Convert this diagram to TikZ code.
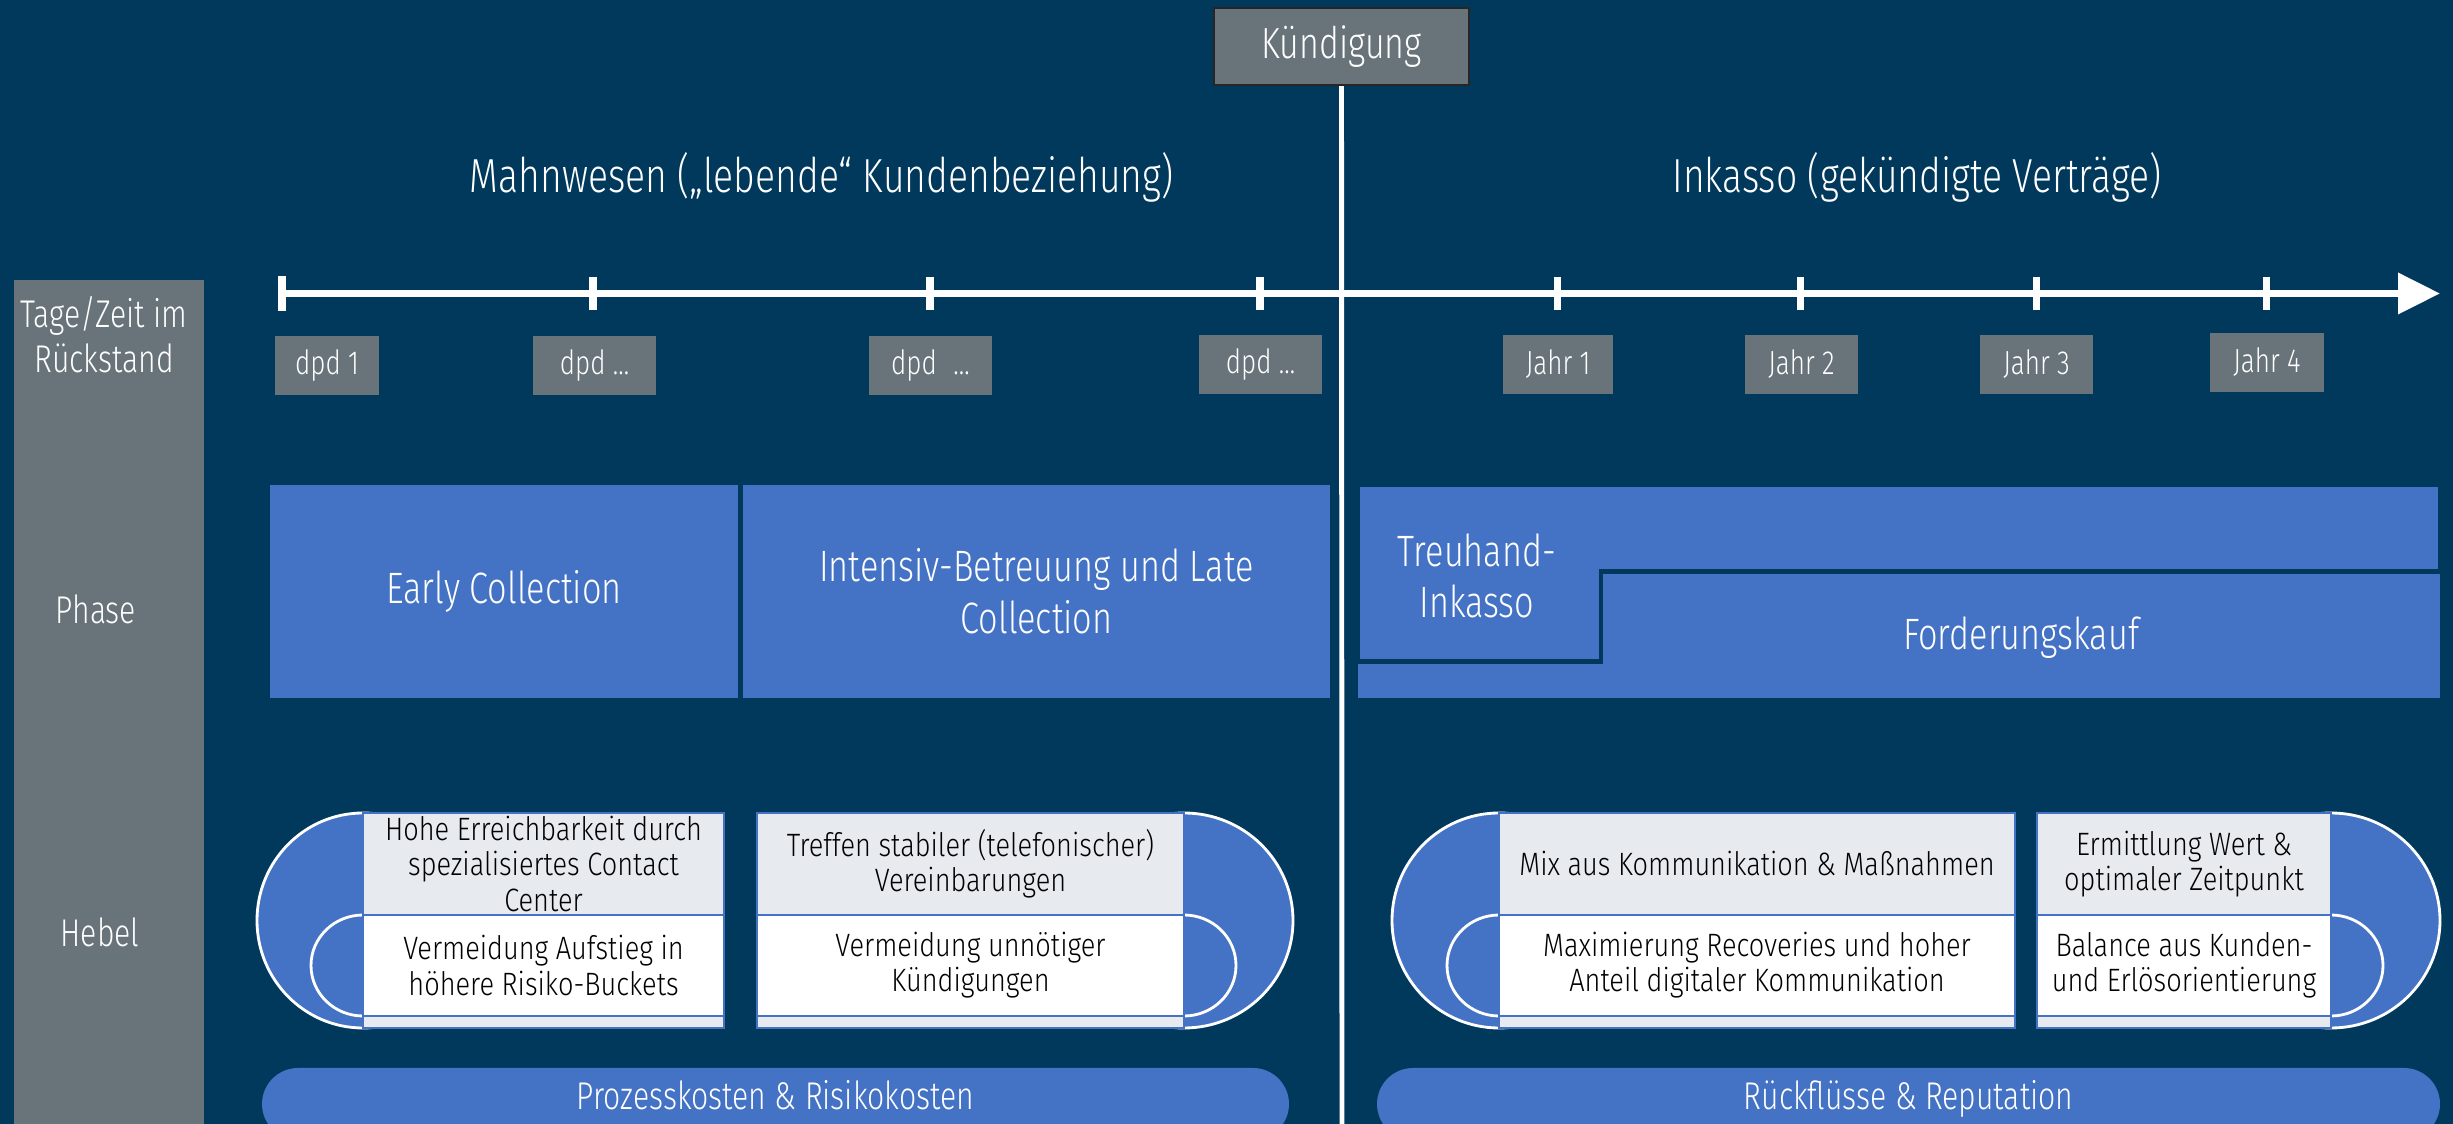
\documentclass[tikz,border=0pt]{standalone}
\usepackage{fontspec}
\setmainfont{Fira Sans Light}[FakeStretch=0.78]
\usepackage{tikz}
\usetikzlibrary{arrows.meta}
\definecolor{navyBg}{RGB}{0,57,92}
\definecolor{slateGray}{RGB}{104,115,122}
\definecolor{phaseBlue}{RGB}{68,114,196}
\definecolor{paleGray}{RGB}{231,235,239}

\begin{document}
\begin{tikzpicture}[x=1cm,y=-1cm,
  tag/.style={fill=slateGray,text=white,minimum height=0.59cm,inner sep=0pt,font=\fontsize{9.5}{11}\selectfont},
  title/.style={text=white,font=\fontsize{13.6}{16}\selectfont},
  rowlabel/.style={text=white,align=center,font=\fontsize{11}{12.8}\selectfont},
  phasebox/.style={fill=phaseBlue,text=white,inner sep=0pt,align=center,font=\fontsize{12.5}{14.7}\selectfont},
  lobe/.style={fill=phaseBlue,draw=white,line width=0.8pt},
  lever/.style={draw=phaseBlue,line width=0.7pt,fill=paleGray,text=black,inner sep=0pt,align=center,font=\fontsize{9.2}{10}\selectfont\addfontfeature{FakeStretch=0.84}},
  leverwhite/.style={lever,fill=white},
  pill/.style={fill=phaseBlue,text=white,rounded corners=0.36cm,minimum height=0.72cm,text depth=5pt,inner sep=0pt,font=\fontsize{11}{13}\selectfont},
]
\useasboundingbox (0,0) rectangle (24.53,11.24);
\fill [navyBg] (0,0) rectangle (24.53,11.24);

\fill [slateGray] (0.14,2.80) rectangle (2.04,11.24);
\node [rowlabel] (daysLbl) at (1.04,3.35) {Tage/Zeit im\\Rückstand};
\node [rowlabel] (phaseLbl) at (0.96,6.09) {Phase};
\node [rowlabel] (leverLbl) at (1.00,9.32) {Hebel};

\node [title] (dunTitle) at (8.215,1.77) {Mahnwesen („lebende“ Kundenbeziehung)};
\node [title] (debtTitle) at (19.17,1.77) {Inkasso (gekündigte Verträge)};

\coordinate (axisStart) at (2.82,2.935);
\coordinate (axisEnd) at (24.40,2.935);
\draw [white,line width=2pt,-{Triangle[length=0.42cm,width=0.40cm]}] (axisStart) -- (axisEnd);
\draw [white,line width=2pt] (2.82,2.76) -- (2.82,3.11);
\draw [white,line width=2pt] (5.93,2.77) -- (5.93,3.10);
\draw [white,line width=2pt] (9.30,2.77) -- (9.30,3.10);
\draw [white,line width=2pt] (12.60,2.77) -- (12.60,3.10);
\draw [white,line width=2pt] (15.57,2.77) -- (15.57,3.10);
\draw [white,line width=2pt] (18.00,2.77) -- (18.00,3.10);
\draw [white,line width=2pt] (20.36,2.77) -- (20.36,3.10);
\draw [white,line width=2pt] (22.66,2.77) -- (22.66,3.10);

\node [tag,minimum width=1.04cm] (dpdA) at (3.27,3.655) {dpd 1};
\node [tag,minimum width=1.23cm] (dpdB) at (5.945,3.655) {dpd …};
\node [tag,minimum width=1.23cm] (dpdC) at (9.305,3.655) {dpd\enspace…};
\node [tag,minimum width=1.23cm] (dpdD) at (12.605,3.645) {dpd …};
\node [tag,minimum width=1.10cm] (yearA) at (15.58,3.645) {Jahr 1};
\node [tag,minimum width=1.13cm] (yearB) at (18.015,3.645) {Jahr 2};
\node [tag,minimum width=1.13cm] (yearC) at (20.365,3.645) {Jahr 3};
\node [tag,minimum width=1.14cm] (yearD) at (22.67,3.625) {Jahr 4};

\node [tag,minimum width=2.55cm,minimum height=0.77cm,draw=black!85,line width=0.6pt,font=\fontsize{12.4}{14}\selectfont] (notice) at (13.415,0.465) {Kündigung};
\coordinate (cutBottom) at (13.42,11.24);
\draw [white,line width=1.4pt] (notice.south) -- (cutBottom);

\node [phasebox,minimum width=4.68cm,minimum height=2.13cm] (early) at (5.04,5.915) {Early Collection};
\node [phasebox,minimum width=5.87cm,minimum height=2.13cm] (late) at (10.365,5.915) {Intensiv-Betreuung und Late\\Collection};
\fill [phaseBlue] (13.58,4.85) rectangle (24.40,6.98);
\filldraw [fill=phaseBlue,draw=navyBg,line width=1.4pt] (13.58,4.85) -- (24.40,4.85) -- (24.40,5.715) -- (16.01,5.715) -- (16.01,6.615) -- (13.58,6.615) -- cycle;
\node [phasebox] (trust) at (14.77,5.76) {Treuhand-\\Inkasso};
\node [phasebox] (buy) at (20.21,6.38) {Forderungskauf};

\filldraw [lobe] (3.63,9.205) ellipse [x radius=1.06,y radius=1.075];
\filldraw [lobe] (3.63,9.655) ellipse [x radius=0.52,y radius=0.505];
\filldraw [lobe] (11.84,9.205) ellipse [x radius=1.09,y radius=1.075];
\filldraw [lobe] (11.84,9.655) ellipse [x radius=0.52,y radius=0.505];
\filldraw [lobe] (14.99,9.205) ellipse [x radius=1.07,y radius=1.075];
\filldraw [lobe] (14.99,9.655) ellipse [x radius=0.52,y radius=0.505];
\filldraw [lobe] (23.31,9.205) ellipse [x radius=1.09,y radius=1.075];
\filldraw [lobe] (23.31,9.655) ellipse [x radius=0.52,y radius=0.505];

\filldraw [lever] (3.63,8.13) rectangle (7.24,10.28);
\filldraw [lever] (7.57,8.13) rectangle (11.84,10.28);
\filldraw [lever] (14.99,8.13) rectangle (20.15,10.28);
\filldraw [lever] (20.37,8.13) rectangle (23.31,10.28);

\node [lever,minimum width=3.61cm,minimum height=1.02cm] (reachTop) at (5.435,8.64) {Hohe Erreichbarkeit durch\\spezialisiertes Contact\\Center};
\node [leverwhite,minimum width=3.61cm,minimum height=1.01cm] (reachBot) at (5.435,9.655) {Vermeidung Aufstieg in\\höhere Risiko-Buckets};
\node [lever,minimum width=4.27cm,minimum height=1.02cm] (dealTop) at (9.705,8.64) {Treffen stabiler (telefonischer)\\Vereinbarungen};
\node [leverwhite,minimum width=4.27cm,minimum height=1.01cm] (dealBot) at (9.705,9.655) {Vermeidung unnötiger\\Kündigungen};
\node [lever,minimum width=5.16cm,minimum height=1.02cm] (mixTop) at (17.57,8.64) {Mix aus Kommunikation \& Maßnahmen};
\node [leverwhite,minimum width=5.16cm,minimum height=1.01cm] (mixBot) at (17.57,9.655) {Maximierung Recoveries und hoher\\Anteil digitaler Kommunikation};
\node [lever,minimum width=2.94cm,minimum height=1.02cm] (valueTop) at (21.84,8.64) {Ermittlung Wert \&\\optimaler Zeitpunkt};
\node [leverwhite,minimum width=2.94cm,minimum height=1.01cm] (valueBot) at (21.84,9.655) {Balance aus Kunden-\\und Erlösorientierung};

\node [pill,minimum width=10.27cm] (costPill) at (7.755,11.04) {Prozesskosten \& Risikokosten};
\node [pill,minimum width=10.63cm] (returnPill) at (19.085,11.04) {Rückflüsse \& Reputation};
\end{tikzpicture}
\end{document}
